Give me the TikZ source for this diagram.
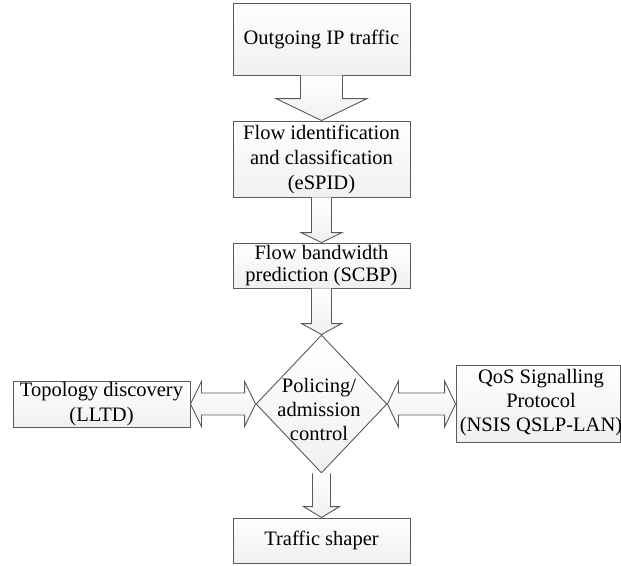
\documentclass[tikz,border=0pt]{standalone}
\usepackage{fontspec}
\setmainfont{Liberation Serif}
\usetikzlibrary{shapes.geometric,calc}
\definecolor{edge}{RGB}{90,90,90}
\definecolor{fillbot}{RGB}{238,240,242}
\tikzset{
  shade/.style={draw=edge, line width=0.9pt, top color=white, bottom color=fillbot},
  box/.style={shade, inner sep=0pt, align=center, font=\fontsize{20.5}{25}\selectfont},
  blk/.style={shade, line join=miter},
  txt/.style={align=center, inner sep=0pt, font=\fontsize{20.5}{24}\selectfont}
}
\newcommand{\blockdown}[5]{%
  \draw[blk] let \p1=(#1), \p2=(#2) in
    (\x1-#3pt,\y1) -- (\x1-#3pt,\y2+#5pt) -- (\x1-#4pt,\y2+#5pt) -- (\x1,\y2)
    -- (\x1+#4pt,\y2+#5pt) -- (\x1+#3pt,\y2+#5pt) -- (\x1+#3pt,\y1);}
\newcommand{\blockhz}[5]{%
  \draw[blk] let \p1=(#1), \p2=(#2) in
    (\x1,\y1) -- (\x1+#5pt,\y1+#4pt) -- (\x1+#5pt,\y1+#3pt) -- (\x2-#5pt,\y1+#3pt)
    -- (\x2-#5pt,\y1+#4pt) -- (\x2,\y1) -- (\x2-#5pt,\y1-#4pt) -- (\x2-#5pt,\y1-#3pt)
    -- (\x1+#5pt,\y1-#3pt) -- (\x1+#5pt,\y1-#4pt) -- cycle;}
\begin{document}
\begin{tikzpicture}[x=1pt,y=1pt]
\useasboundingbox (0,0) rectangle (621,-565);
\node[box, minimum width=177pt, minimum height=72pt] (src) at (321.5,-39) {Outgoing IP traffic};
\node[box, minimum width=177pt, minimum height=76pt] (cls) at (321.5,-159) {Flow identification\\and classification\\(eSPID)};
\node[box, minimum width=177pt, minimum height=45pt, font=\fontsize{20.5}{22}\selectfont] (pred) at (321.5,-265.5) {Flow bandwidth\\prediction (SCBP)};
\node[shade, diamond, minimum width=131pt, minimum height=138pt, inner sep=0pt] (pol) at (321.5,-404) {};
\node[txt] (poltxt) at (319,-409) {Policing/\\admission\\control};
\node[box, minimum width=177pt, minimum height=46pt] (topo) at (101.5,-404) {Topology discovery\\(LLTD)};
\node[box, minimum width=164pt, minimum height=77pt] (qos) at (538,-403.5) {};
\node[txt] (qostxt) at (541,-403) {QoS Signalling\\Protocol\\(NSIS QSLP-LAN)};
\node[box, minimum width=177pt, minimum height=45pt] (shp) at (321.5,-540.5) {Traffic shaper};
\blockdown{src.south}{cls.north}{21}{45.5}{22}
\blockdown{cls.south}{pred.north}{10}{20.5}{10}
\blockdown{pred.south}{pol.north}{10}{20}{11}
\blockdown{pol.south}{shp.north}{9}{18}{11}
\blockhz{topo.east}{pol.west}{11}{22.5}{11}
\blockhz{pol.east}{qos.west}{11}{23}{11}
\end{tikzpicture}
\end{document}
